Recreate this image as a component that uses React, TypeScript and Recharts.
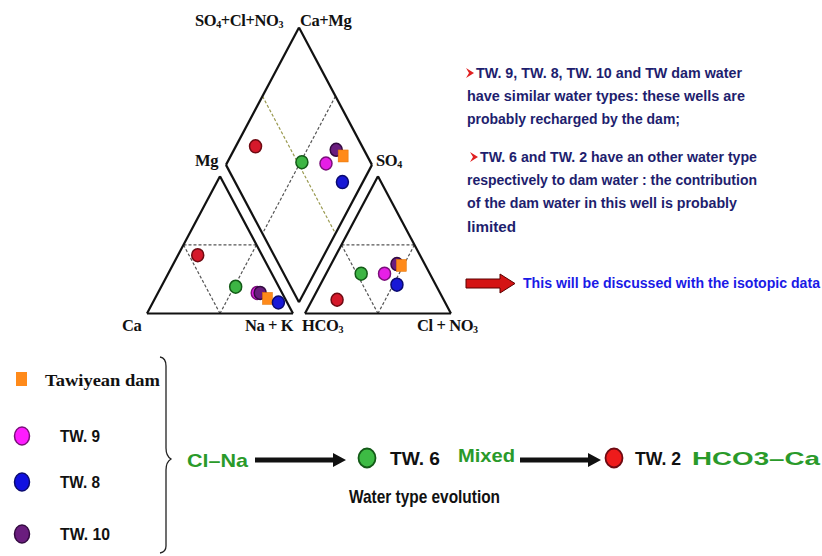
import React from 'react';
import { ScatterChart, Scatter, XAxis, YAxis, ReferenceLine } from 'recharts';

const W = 822;
const H = 556;
const GAP = 8.2; // gap between the two Piper triangles (Piper units, side = 100)
const S3 = Math.sqrt(3) / 2;

// Samples (draw order)
const sampleNames = ['TW. 9', 'TW. 10', 'Tawiyean dam', 'TW. 8', 'TW. 6', 'TW. 2'];
// Cations (% meq)
const caPct = [17, 15, 12, 6, 29.5, 44];
const mgPct = [15, 15, 11, 8, 19.5, 42.5];
const naKPct = [68, 70, 77, 86, 51, 13.5];
// Anions (% meq)
const hco3Pct = [31, 19, 16.5, 26.5, 47, 73];
const so4Pct = [29, 36, 35, 21, 29, 10];
const clNo3Pct = [40, 45, 48.5, 52.5, 24, 17];
const sampleColors = ['#e61fe6', '#6a1d7e', '#ff8a1a', '#1818d6', '#3db544', '#d5192b'];
const sampleStrokes = ['#7a0f7a', '#330a40', '#c86000', '#0a0a70', '#135a17', '#6e0a12'];
const sampleShapes = ['circle', 'circle', 'square', 'circle', 'circle', 'circle'];

// Piper projection
function cationPoint(i: number) {
  return { x: naKPct[i] + mgPct[i] / 2, y: mgPct[i] * S3, ca: caPct[i] };
}
function anionPoint(i: number) {
  return { x: 100 + GAP + clNo3Pct[i] + so4Pct[i] / 2, y: so4Pct[i] * S3, hco3: hco3Pct[i] };
}
function diamondPoint(i: number) {
  const a = clNo3Pct[i] + so4Pct[i];
  const n = naKPct[i];
  return { x: (n + 100 + GAP + a) / 2, y: S3 * (100 + GAP + a - n) };
}

const sampleData = sampleNames.map((name, i) => [
  { name, ...cationPoint(i) },
  { name, ...anionPoint(i) },
  { name, ...diamondPoint(i) },
]);

// Frame geometry (Piper units)
const h = 100 * S3;
const off = 100 + GAP;
const dB = { x: 100 + GAP / 2, y: GAP * S3 };
const dL = { x: 50 + GAP / 2, y: h + GAP * S3 };
const dR = { x: 150 + GAP / 2, y: h + GAP * S3 };
const dT = { x: 100 + GAP / 2, y: 2 * h + GAP * S3 };
const mid = (p: any, q: any) => ({ x: (p.x + q.x) / 2, y: (p.y + q.y) / 2 });

const solidSegs = [
  [{ x: 0, y: 0 }, { x: 100, y: 0 }],
  [{ x: 100, y: 0 }, { x: 50, y: h }],
  [{ x: 50, y: h }, { x: 0, y: 0 }],
  [{ x: off, y: 0 }, { x: off + 100, y: 0 }],
  [{ x: off + 100, y: 0 }, { x: off + 50, y: h }],
  [{ x: off + 50, y: h }, { x: off, y: 0 }],
  [dB, dL],
  [dL, dT],
  [dT, dR],
  [dR, dB],
];
const dashedSegs = [
  [{ x: 25, y: h / 2 }, { x: 75, y: h / 2 }],
  [{ x: 25, y: h / 2 }, { x: 50, y: 0 }],
  [{ x: 75, y: h / 2 }, { x: 50, y: 0 }],
  [{ x: off + 25, y: h / 2 }, { x: off + 75, y: h / 2 }],
  [{ x: off + 25, y: h / 2 }, { x: off + 50, y: 0 }],
  [{ x: off + 75, y: h / 2 }, { x: off + 50, y: 0 }],
  [mid(dT, dR), mid(dL, dB)],
];
const oliveSegs = [[mid(dL, dT), mid(dB, dR)]];

const makeShape = (i: number) => (props: any) => {
  const { cx, cy } = props;
  if (cx == null || cy == null) return <g />;
  if (sampleShapes[i] === 'square') {
    return <rect x={cx - 5} y={cy - 6} width={10} height={12} fill={sampleColors[i]} stroke="#e07000" strokeWidth={0.5} />;
  }
  return <ellipse cx={cx} cy={cy} rx={6} ry={6.5} fill={sampleColors[i]} stroke={sampleStrokes[i]} strokeWidth={1.5} />;
};

const serif = "'Liberation Serif', 'Times New Roman', serif";
const narrow = "'Liberation Sans Narrow', 'Arial Narrow', 'Liberation Sans', Arial, sans-serif";

const paraLines = [
  { t: 'TW. 9, TW. 8, TW. 10 and TW dam water', x: 476, y: 78, w: 266, bullet: true },
  { t: 'have similar water types: these wells are', x: 467, y: 101, w: 278 },
  { t: 'probably recharged by the dam;', x: 467, y: 124, w: 213 },
  { t: 'TW. 6 and TW. 2 have an other water type', x: 480, y: 162, w: 277, bullet: true },
  { t: 'respectively to dam water : the contribution', x: 467, y: 185, w: 290 },
  { t: 'of the dam water in this well is probably', x: 467, y: 208, w: 270 },
  { t: 'limited', x: 467, y: 232, w: 49 },
];

export default function App() {
  return (
    <div style={{ position: 'absolute', left: 0, top: 0, width: W, height: H, background: '#fff' }}>
      <ScatterChart width={W} height={H} margin={{ top: 0, right: 0, bottom: 0, left: 0 }}>
        <XAxis type="number" dataKey="x" domain={[-100.68, 462.33]} hide allowDataOverflow />
        <YAxis type="number" dataKey="y" domain={[-152.9, 197.67]} hide allowDataOverflow />
        {dashedSegs.map((s, k) => (
          <ReferenceLine key={'d' + k} segment={s as any} stroke="#555" strokeWidth={1.2} strokeDasharray="3 2" ifOverflow="visible" />
        ))}
        {oliveSegs.map((s, k) => (
          <ReferenceLine key={'o' + k} segment={s as any} stroke="#9a9a50" strokeWidth={1.2} strokeDasharray="3 2" ifOverflow="visible" />
        ))}
        {solidSegs.map((s, k) => (
          <ReferenceLine key={'s' + k} segment={s as any} stroke="#111" strokeWidth={2.2} ifOverflow="visible" />
        ))}
        {sampleData.map((d, i) => (
          <Scatter key={sampleNames[i]} name={sampleNames[i]} data={d} fill={sampleColors[i]} shape={makeShape(i)} isAnimationActive={false} />
        ))}
      </ScatterChart>
      <svg width={W} height={H} style={{ position: 'absolute', left: 0, top: 0, pointerEvents: 'none' }}>
        {/* Piper labels */}
        <g fontFamily={serif} fontWeight="bold" fontSize={16.5} fill="#111" letterSpacing={-0.4}>
          <text x={195} y={26}>SO<tspan fontSize={10} dy={2}>4</tspan><tspan dy={-2}>+Cl+NO</tspan><tspan fontSize={10} dy={2}>3</tspan></text>
          <text x={300} y={26}>Ca+Mg</text>
          <text x={195} y={166}>Mg</text>
          <text x={376} y={166}>SO<tspan fontSize={10} dy={2}>4</tspan></text>
          <text x={122} y={331}>Ca</text>
          <text x={245} y={331}>Na + K</text>
          <text x={302} y={331}>HCO<tspan fontSize={10} dy={2}>3</tspan></text>
          <text x={417} y={331}>Cl + NO<tspan fontSize={10} dy={2}>3</tspan></text>
        </g>
        {/* Paragraph */}
        <g fontFamily={narrow} fontWeight="bold" fontSize={14} fill="#1e1e6e">
          {paraLines.map((l, k) => (
            <g key={k}>
              {l.bullet && <path d={`M${l.x - 10} ${l.y - 10} L${l.x - 2} ${l.y - 5} L${l.x - 10} ${l.y} L${l.x - 7} ${l.y - 5} Z`} fill="#e02020" />}
              <text x={l.x} y={l.y} textLength={l.w} lengthAdjust="spacingAndGlyphs">{l.t}</text>
            </g>
          ))}
          <path d="M466 279 L500 279 L500 274 L515 283.5 L500 293 L500 288 L466 288 Z" fill="#d41414" stroke="#5a0000" strokeWidth={1} />
          <text x={523} y={288} fill="#1a1ae6" textLength={297} lengthAdjust="spacingAndGlyphs">This will be discussed with the isotopic data</text>
        </g>
        {/* Legend */}
        <rect x={16} y={372} width={11} height={14} fill="#ff8a1a" />
        <text x={45} y={386} fontFamily={serif} fontWeight="bold" fontSize={17} fill="#111" textLength={115} lengthAdjust="spacingAndGlyphs">Tawiyean dam</text>
        <ellipse cx={22} cy={436} rx={7.5} ry={9} fill="#ff1cff" stroke="#7a0f7a" strokeWidth={1.5} />
        <ellipse cx={22} cy={482} rx={7.5} ry={9} fill="#1010e0" stroke="#0a0a70" strokeWidth={1.5} />
        <ellipse cx={22} cy={534} rx={7.5} ry={9} fill="#6a1d7e" stroke="#330a40" strokeWidth={1.5} />
        <g fontFamily={narrow} fontWeight="bold" fontSize={17} fill="#111">
          <text x={60} y={442} textLength={40} lengthAdjust="spacingAndGlyphs">TW. 9</text>
          <text x={60} y={488} textLength={40} lengthAdjust="spacingAndGlyphs">TW. 8</text>
          <text x={60} y={540} textLength={50} lengthAdjust="spacingAndGlyphs">TW. 10</text>
        </g>
        {/* Brace */}
        <path d="M160 357 Q166 358 166 366 L166 448 Q166 456 171 459 Q166 462 166 470 L166 546 Q166 552 160 553" fill="none" stroke="#222" strokeWidth={1.3} />
        {/* Evolution */}
        <g fontFamily={narrow} fontWeight="bold" fontSize={19}>
          <text x={187} y={467} fill="#2a9a2a" textLength={61} lengthAdjust="spacingAndGlyphs">Cl–Na</text>
          <text x={390} y={465} fill="#111" textLength={50} lengthAdjust="spacingAndGlyphs">TW. 6</text>
          <text x={458} y={462} fill="#2a9a2a" textLength={57} lengthAdjust="spacingAndGlyphs">Mixed</text>
          <text x={635} y={465} fill="#111" textLength={46} lengthAdjust="spacingAndGlyphs">TW. 2</text>
          <text x={692} y={465} fill="#2a9a2a" textLength={128} lengthAdjust="spacingAndGlyphs">HCO3–Ca</text>
          <text x={349} y={503} fill="#111" textLength={151} lengthAdjust="spacingAndGlyphs">Water type evolution</text>
        </g>
        <path d="M255 457.5 L333 457.5 L333 453 L346 460 L333 467 L333 462.5 L255 462.5 Z" fill="#111" />
        <path d="M520 457.5 L588 457.5 L588 453 L601 460 L588 467 L588 462.5 L520 462.5 Z" fill="#111" />
        <ellipse cx={367} cy={458} rx={8.5} ry={9.5} fill="#3dbb44" stroke="#135a17" strokeWidth={1.8} />
        <ellipse cx={614} cy={458} rx={8.5} ry={9.5} fill="#ee1b1b" stroke="#6e0a12" strokeWidth={1.8} />
      </svg>
    </div>
  );
}
